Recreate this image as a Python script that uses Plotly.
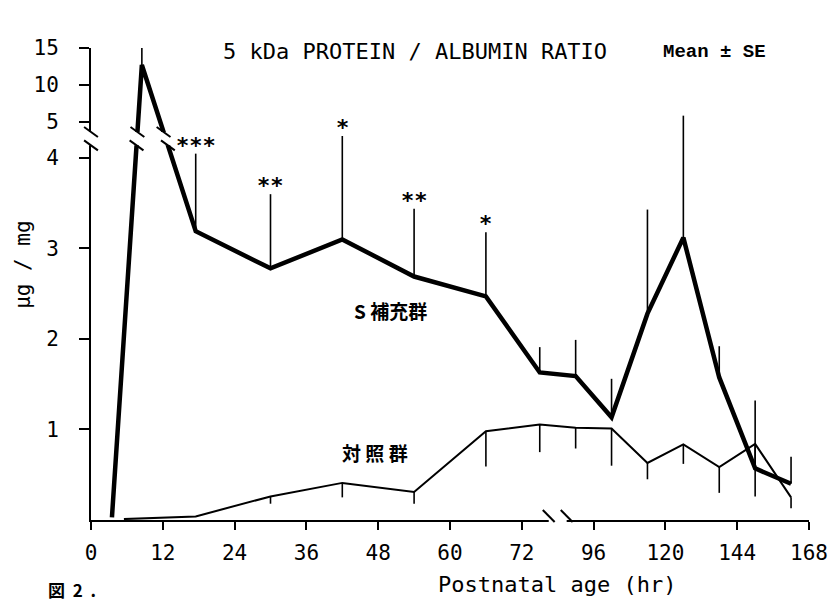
import numpy as np
import plotly.graph_objects as go

# ---------------- data ----------------
s_hours = [3.5, 8.5, 17.5, 30, 42, 54, 66, 78, 90, 102, 114, 126, 138, 150, 162]
s_mean = [0.03, 12.7, 3.19, 2.78, 3.10, 2.69, 2.47, 1.63, 1.59, 1.135, 2.28, 3.12, 1.575, 0.57, 0.40]
s_upper = [0.03, 17.8, 4.12, 3.6, 4.61, 3.44, 3.18, 1.91, 1.99, 1.56, 3.43, 5.85, 1.92, 1.32, 0.70]
s_sig = ["", "**", "***", "**", "*", "**", "*", "", "", "", "", "", "", "", ""]

c_hours = [5.5, 17.5, 30, 42, 54, 66, 78, 90, 102, 114, 126, 138, 150, 162]
c_mean = [0.01, 0.04, 0.26, 0.41, 0.31, 0.98, 1.055, 1.02, 1.01, 0.63, 0.835, 0.585, 0.84, 0.25]
c_lower = [0.01, 0.04, 0.18, 0.25, 0.18, 0.59, 0.75, 0.79, 0.60, 0.45, 0.62, 0.30, 0.26, 0.13]

x_tick_hours = [0, 12, 24, 36, 48, 60, 72, 96, 120, 144, 168]
y_tick_vals = [1, 2, 3, 4, 5, 10, 15]

# ---------------- broken-axis scales ----------------
X_KNOT_HR = [0, 72, 96, 168]
X_KNOT_POS = [0, 6, 7, 10]
Y_KNOT_VAL = [0, 4, 5, 15, 20]
Y_KNOT_POS = [0, 4, 4.398, 5.215, 5.6235]


def xs(h):
    return np.interp(np.asarray(h, dtype=float), X_KNOT_HR, X_KNOT_POS)


def ys(v):
    return np.interp(np.asarray(v, dtype=float), Y_KNOT_VAL, Y_KNOT_POS)


# page geometry (the page body adds an 8px offset)
OFF = 8
PAGE_W, PAGE_H = 840, 603
ML, MR, MT, MB = 91, 22, 48, 83          # in page pixels
PW, PH = PAGE_W - ML - MR, PAGE_H - MT - MB
W, H = PAGE_W - OFF, PAGE_H - OFF
X_RANGE = [0, 10]
Y_RANGE = [0, 5.215]
PX_X = (X_RANGE[1] - X_RANGE[0]) / PW   # pos units per pixel
PX_Y = (Y_RANGE[1] - Y_RANGE[0]) / PH

MONO = "DejaVu Sans Mono"
CJK = "Noto Sans CJK JP"

fig = go.Figure()

sx = xs(s_hours)
sy = ys(s_mean)
s_up = ys(s_upper) - sy
fig.add_trace(go.Scatter(
    x=sx, y=sy, mode="lines",
    line=dict(color="black", width=4.5),
    error_y=dict(type="data", symmetric=False, array=s_up, arrayminus=[0] * len(sy),
                 color="black", thickness=1.6, width=0),
    showlegend=False, hoverinfo="skip"))

cx = xs(c_hours)
cy = ys(c_mean)
c_dn = cy - ys(c_lower)
fig.add_trace(go.Scatter(
    x=cx, y=cy, mode="lines",
    line=dict(color="black", width=2),
    error_y=dict(type="data", symmetric=False, array=[0] * len(cy), arrayminus=c_dn,
                 color="black", thickness=1.6, width=0),
    showlegend=False, hoverinfo="skip"))

annotations = []
# significance marks
for h, u, sig in zip(s_hours, s_upper, s_sig):
    if sig:
        annotations.append(dict(x=float(xs(h)), y=float(ys(u)), xref="x", yref="y",
                                text=sig, showarrow=False, yanchor="bottom", yshift=-6,
                                font=dict(family=MONO, size=22, color="black", weight="bold")))

# group labels
annotations.append(dict(x=float(xs(50)), y=float(ys(2.32)), xref="x", yref="y",
                        text="S 補充群", showarrow=False,
                        font=dict(family=CJK, size=19, color="black", weight="bold")))
annotations.append(dict(x=float(xs(47.5)), y=float(ys(0.75)), xref="x", yref="y",
                        text="対 照 群", showarrow=False,
                        font=dict(family=CJK, size=19, color="black", weight="bold")))


def px_paper_x(px):
    return (px - ML) / PW


def px_paper_y(py):
    return (PAGE_H - MB - py) / PH


annotations.append(dict(x=px_paper_x(223), y=px_paper_y(52), xref="paper", yref="paper",
                        xanchor="left", yanchor="middle", showarrow=False,
                        text="5 kDa PROTEIN / ALBUMIN RATIO",
                        font=dict(family=MONO, size=22, color="black")))
annotations.append(dict(x=px_paper_x(668), y=px_paper_y(52), xref="paper", yref="paper",
                        xanchor="left", yanchor="middle", showarrow=False,
                        text="Mean ± SE",
                        font=dict(family="Liberation Mono", size=19, color="black", weight="bold")))
annotations.append(dict(x=px_paper_x(440), y=px_paper_y(584), xref="paper", yref="paper",
                        xanchor="left", yanchor="middle", showarrow=False,
                        text="Postnatal age (hr)",
                        font=dict(family=MONO, size=22, color="black")))
annotations.append(dict(x=px_paper_x(22), y=px_paper_y(264), xref="paper", yref="paper",
                        xanchor="center", yanchor="middle", showarrow=False, textangle=-90,
                        text="μg / mg",
                        font=dict(family=MONO, size=21, color="black")))
annotations.append(dict(x=px_paper_x(45), y=px_paper_y(589), xref="paper", yref="paper",
                        xanchor="left", yanchor="middle", showarrow=False,
                        text="図\u00a0 2 \u00a0.",
                        font=dict(family=CJK, size=17, color="black", weight="bold")))

# ---------------- axis breaks ----------------
shapes = []
yb0, yb1 = float(ys(4.35)), float(ys(4.72))
# y axis gap
shapes.append(dict(type="rect", xref="paper", yref="y", x0=-0.03, x1=0.02, y0=yb0, y1=yb1,
                   fillcolor="white", line=dict(width=0), layer="above"))
# gap across the steep S lines
shapes.append(dict(type="rect", xref="x", yref="y", x0=0.4, x1=1.4, y0=yb0, y1=yb1,
                   fillcolor="white", line=dict(width=0), layer="above"))


def slash(xc, yc, xref, yref, dxp=7, dyp=5):
    dx = dxp / PW if xref == "paper" else dxp * PX_X
    dy = dyp / PH if yref == "paper" else dyp * PX_Y
    return dict(type="line", xref=xref, yref=yref, x0=xc - dx, y0=yc + dy, x1=xc + dx, y1=yc - dy,
                line=dict(color="black", width=2), layer="above")


for yb in (yb0, yb1):
    shapes.append(slash(0.0, yb, "paper", "y"))
    for i in (0, 1):
        xa, xb = sx[i], sx[i + 1]
        ya, yb_ = sy[i], sy[i + 1]
        t = (yb - ya) / (yb_ - ya)
        shapes.append(slash(float(xa + t * (xb - xa)), yb, "x", "y"))

# x axis gap
xg0, xg1 = float(xs(81)), float(xs(87))
shapes.append(dict(type="rect", xref="x", yref="paper", x0=xg0, x1=xg1, y0=-0.02, y1=0.02,
                   fillcolor="white", line=dict(width=0), layer="above"))
for xg in (xg0, xg1):
    shapes.append(slash(xg, 4 / PH, "x", "paper", dxp=6, dyp=6))

fig.update_layout(
    width=W, height=H,
    margin=dict(l=ML - OFF, r=MR, t=MT - OFF, b=MB, pad=0),
    paper_bgcolor="white", plot_bgcolor="white",
    annotations=annotations, shapes=shapes,
    xaxis=dict(range=X_RANGE, showgrid=False, zeroline=False, showline=True, linecolor="black",
               linewidth=2, ticks="outside", ticklen=8, tickwidth=2, tickcolor="black",
               tickvals=[float(v) for v in xs(x_tick_hours)],
               ticktext=[str(h) for h in x_tick_hours],
               tickfont=dict(family=MONO, size=21, color="black"), ticklabelstandoff=5),
    yaxis=dict(range=Y_RANGE, showgrid=False, zeroline=False, showline=True, linecolor="black",
               linewidth=2, ticks="outside", ticklen=10, tickwidth=2, tickcolor="black",
               tickvals=[float(v) for v in ys(y_tick_vals)],
               ticktext=[str(v) for v in y_tick_vals],
               tickfont=dict(family=MONO, size=21, color="black"), ticklabelstandoff=16),
)

fig.write_html("out.html")
